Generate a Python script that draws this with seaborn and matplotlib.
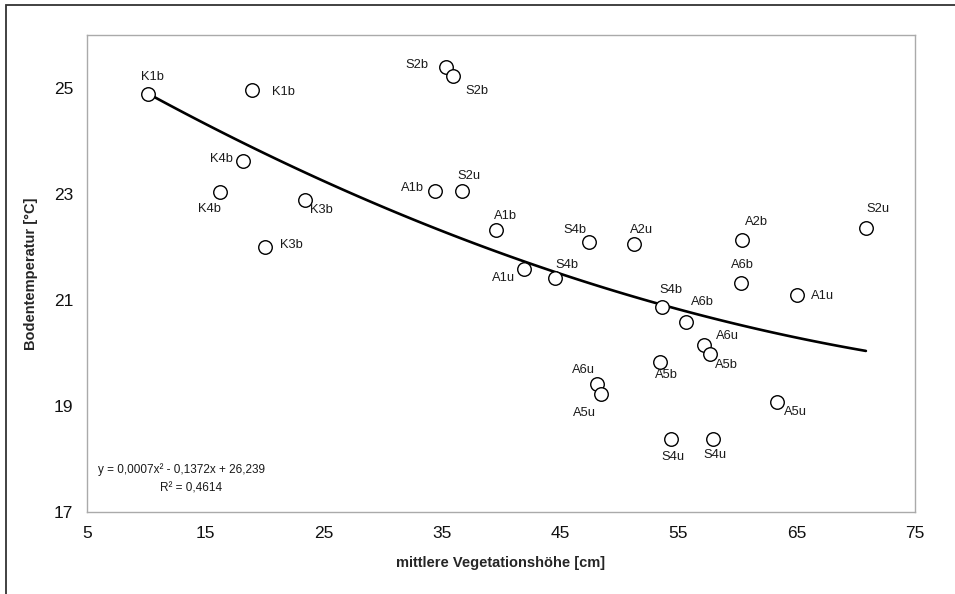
import numpy as np
import pandas as pd
import matplotlib.pyplot as plt
import seaborn as sb
from matplotlib.patches import Rectangle

sb.set_style("white")
plt.rcParams['font.family'] = ['Liberation Sans', 'DejaVu Sans']

# Messwerte: mittlere Vegetationshoehe [cm] und Bodentemperatur [°C]
plots = ["K1b", "K1b", "S2b", "S2b", "K4b", "K4b", "K3b", "K3b", "A1b", "S2u",
         "A1b", "A1u", "S4b", "S4b", "A2u", "A2b", "S2u", "A6b", "A1u", "S4b",
         "A6b", "A6u", "A5b", "A5b", "A6u", "A5u", "A5u", "S4u", "S4u"]
hoehe = [10.16, 18.95, 35.35, 35.94, 18.19, 16.24, 23.43, 20.05, 34.42, 36.70,
         39.57, 41.94, 47.43, 44.56, 51.24, 60.37, 70.85, 60.28, 65.02, 53.60,
         55.63, 57.16, 57.66, 53.44, 48.11, 48.45, 63.33, 54.37, 57.92]
temp = [24.89, 24.96, 25.40, 25.23, 23.62, 23.04, 22.89, 22.00, 23.06, 23.06,
        22.32, 21.58, 22.09, 21.42, 22.06, 22.13, 22.36, 21.32, 21.09, 20.87,
        20.58, 20.15, 19.98, 19.83, 19.42, 19.23, 19.08, 18.38, 18.38]

x_ticks = [5, 15, 25, 35, 45, 55, 65, 75]
y_ticks = [17, 19, 21, 23, 25]

# Lage der Beschriftungen (Pixel relativ zum Punkt)
lbl_off = [(4, 17), (31, -2), (-29, 2), (24, -15), (-22, 2), (-11, -17), (16, -10), (26, 2),
           (-23, 3), (7, 15), (10, 14), (-20, -9), (-14, 12), (12, 13), (8, 14), (15, 18),
           (12, 19), (2, 18), (26, -1), (9, 17), (17, 20), (23, 9), (17, -11), (6, -13),
           (-13, 14), (-16, -19), (19, -10), (2, -18), (2, -16)]

df = pd.DataFrame({"hoehe": hoehe, "temp": temp})

fig = plt.figure(figsize=(9.55, 5.94), dpi=100)
ax = fig.add_axes([87/955, 1-512/594, (915-87)/955, (512-35)/594])

sb.regplot(data=df, x="hoehe", y="temp", order=2, ci=None, scatter=False, ax=ax,
           line_kws=dict(color="black", lw=1.9))
sb.scatterplot(data=df, x="hoehe", y="temp", ax=ax, s=95, facecolor="white",
               edgecolor="black", linewidth=1.0, zorder=3)

for name, xv, yv, off in zip(plots, hoehe, temp, lbl_off):
    ax.annotate(name, (xv, yv), xytext=off, textcoords="offset pixels",
                ha="center", va="center", fontsize=9.3, color="#1a1a1a")

ax.set_xlim(5, 75)
ax.set_ylim(17, 26)
ax.set_xticks(x_ticks)
ax.set_yticks(y_ticks)
ax.tick_params(axis="both", direction="out", length=4, width=0.8, color="#999999",
               labelsize=12.5, labelcolor="#111111", pad=6)
for s in ax.spines.values():
    s.set_color("#aaaaaa")
    s.set_linewidth(1.0)
    s.set_visible(True)

ax.set_xlabel("mittlere Vegetationshöhe [cm]", fontsize=10.5, fontweight="bold", labelpad=11)
ax.set_ylabel("Bodentemperatur [°C]", fontsize=10.5, fontweight="bold", labelpad=11)

ax.text(0.013, 0.088, "y = 0,0007x² - 0,1372x + 26,239", transform=ax.transAxes,
        fontsize=8.5, ha="left", va="center", color="#1a1a1a")
ax.text(0.126, 0.05, "R² = 0,4614", transform=ax.transAxes,
        fontsize=8.5, ha="center", va="center", color="#1a1a1a")

# Rahmen um das Diagramm
fig.patches.append(Rectangle((6/955, -0.1), 1.2, 1 - 5/594 + 0.1, transform=fig.transFigure,
                             fill=False, edgecolor="#333333", lw=1.3))

fig.savefig("out.png", dpi=100)
